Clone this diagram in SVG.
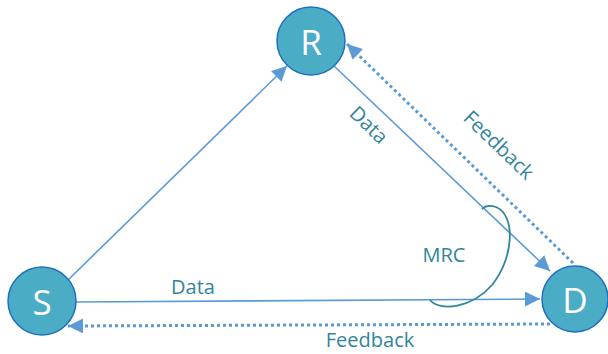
<svg xmlns="http://www.w3.org/2000/svg" width="608" height="354" viewBox="0 0 608 354">
<style>
.node{fill:#4BACC6;stroke:#1F6FBF;stroke-width:1.5}
.nl{fill:#fff;font-family:"Open Sans","Liberation Sans",sans-serif;font-size:35px;text-anchor:middle;dominant-baseline:central}
.c{stroke:#5B9BD5;stroke-width:1.6;fill:none}
.d{stroke:#5B9BD5;stroke-width:3;fill:none;stroke-dasharray:3 3}
.lb{fill:#31859C;font-family:"Open Sans","Liberation Sans",sans-serif;font-size:20px;text-anchor:middle}
</style>
<defs>
<marker id="ah" viewBox="0 0 10 10" refX="10" refY="5" markerWidth="18" markerHeight="15" markerUnits="userSpaceOnUse" orient="auto"><path d="M0 0L10 5L0 10z" fill="#5B9BD5"/></marker>
</defs>
<g id="connectors">
<line class="c" x1="68" y1="280" x2="287" y2="66" marker-end="url(#ah)"/>
<line class="c" x1="334" y1="66" x2="550" y2="271" marker-end="url(#ah)"/>
<line class="c" x1="76" y1="302" x2="540" y2="299" marker-end="url(#ah)"/>
<line class="d" x1="550" y1="324" x2="68" y2="326" marker-end="url(#ah)"/>
<line class="d" x1="573" y1="263" x2="347" y2="44" marker-end="url(#ah)"/>
<path d="M430 300 C440 312 472 308 492 285 C514 258 516 215 496 207 C490 205 485 206 482 209" fill="none" stroke="#31859C" stroke-width="1.8"/>
</g>
<g id="S"><circle class="node" cx="42" cy="301" r="34"/><text class="nl" x="42" y="301">S</text></g>
<g id="R"><circle class="node" cx="311" cy="41" r="34"/><text class="nl" x="311" y="41">R</text></g>
<g id="D"><circle class="node" cx="575" cy="299" r="33"/><text class="nl" x="575" y="299">D</text></g>
<g id="labels">
<text class="lb" x="193" y="294">Data</text>
<text class="lb" x="370" y="347">Feedback</text>
<text class="lb" x="444" y="262">MRC</text>
<text class="lb" transform="translate(364,130) rotate(44)">Data</text>
<text class="lb" transform="translate(494,150) rotate(44)">Feedback</text>
</g>
</svg>
